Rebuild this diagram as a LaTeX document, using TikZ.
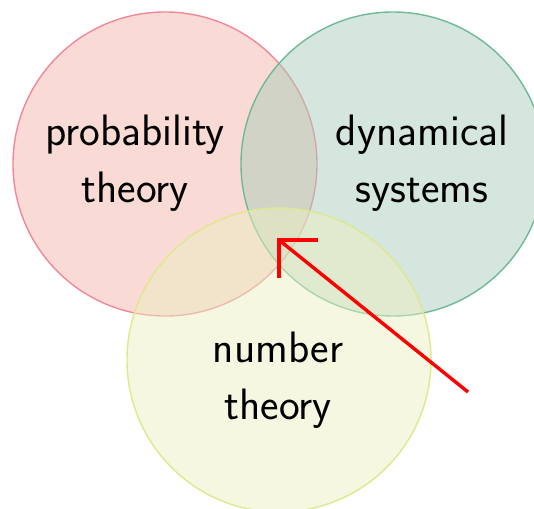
\documentclass[tikz,border=0pt]{standalone}
\definecolor{redfill}{RGB}{245,181,169}
\definecolor{greenfill}{RGB}{169,205,187}
\definecolor{yellowfill}{RGB}{235,239,193}
\definecolor{redline}{RGB}{240,135,155}
\definecolor{greenline}{RGB}{110,185,150}
\definecolor{yellowline}{RGB}{222,232,140}
\begin{document}
\begin{tikzpicture}[x=1pt,y=-1pt,
  setcircle/.style={circle,minimum size=304pt,inner sep=0pt,line width=1.4pt,fill opacity=0.5,draw opacity=1},
  settext/.style={font=\sffamily\fontsize{44}{57}\selectfont,align=center,text=black},
  arrowline/.style={draw=red,line width=3.4pt}]
\useasboundingbox (0,0) rectangle (534,508);
\node[setcircle,draw=redline,fill=redfill] (prob) at (165,164) {};
\node[setcircle,draw=greenline,fill=greenfill] (dyn) at (393,164) {};
\node[setcircle,draw=yellowline,fill=yellowfill] (num) at (279,360) {};
\node[settext] (probtext) at (135,163) {probability\\theory};
\node[settext] (dyntext) at (422,163) {dynamical\\systems};
\node[settext] (numtext) at (278,380) {number\\theory};
\coordinate (tip) at (279,240);
\coordinate (tail) at (468,392);
\draw[arrowline] (tail) -- (tip);
\draw[arrowline] ([xshift=39pt]tip) -- (tip) -- ([yshift=-38pt]tip);
\end{tikzpicture}
\end{document}
